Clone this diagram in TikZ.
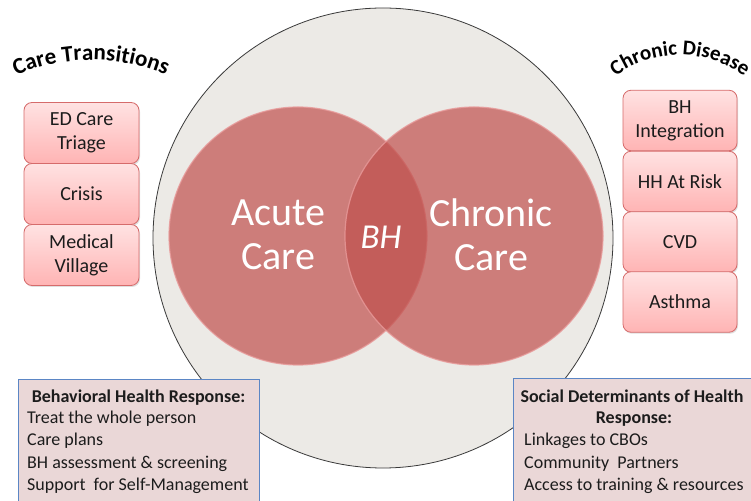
\documentclass[tikz,border=0pt]{standalone}
\usepackage{fontspec}
\setmainfont{Carlito}
\usetikzlibrary{calc,decorations.text,shadows}
\definecolor{ringfill}{HTML}{ECEAE6}
\definecolor{ringline}{HTML}{3A3A3A}
\definecolor{vennred}{HTML}{C0504D}
\definecolor{vennrim}{HTML}{E89A9A}
\definecolor{tiletop}{HTML}{FFE2E2}
\definecolor{tilebot}{HTML}{FFB4B4}
\definecolor{tileline}{HTML}{D66B6B}
\definecolor{notefill}{HTML}{EAD7D7}
\definecolor{noteline}{HTML}{5B86C5}
\definecolor{ink}{HTML}{1C1C1C}
\newcommand\arcfontA{\fontsize{23}{25}\selectfont\bfseries}
\newcommand\arcfontB{\fontsize{21}{23}\selectfont\bfseries}
\newcommand\bigfont{\fontsize{40}{44}\selectfont}
\newcommand\tilefont{\fontsize{20}{24}\selectfont}
\newcommand\notefont{\fontsize{18}{22}\selectfont}
\tikzset{
  tile/.style={rectangle, rounded corners=8pt, minimum width=115pt, minimum height=61pt,
    draw=tileline, line width=0.8pt, top color=tiletop, bottom color=tilebot,
    align=center, text=ink, font=\tilefont, inner sep=2pt,
    drop shadow={shadow xshift=1pt, shadow yshift=-1.5pt, opacity=0.25}},
  venn/.style={fill=vennred, fill opacity=0.7, draw=vennrim, draw opacity=0.8, line width=1.2pt},
  note/.style={fill=notefill, draw=noteline, line width=0.8pt},
  noteline/.style={anchor=base west, inner sep=0pt, text=ink, font=\notefont},
  notehead/.style={anchor=base, inner sep=0pt, text=ink, font=\notefont\bfseries},
  bigtext/.style={text=white, font=\bigfont, align=center, inner sep=0pt},
  arctext/.style={decorate, decoration={text along path, text align=center, text={#1}}}
}
\begin{document}
\begin{tikzpicture}[x=1pt,y=1pt]
\useasboundingbox (0,0) rectangle (751,500);
\fill[white] (0,0) rectangle (751,500);

% outer ring and the two overlapping care circles
\coordinate (ring) at (383,262);
\fill[ringfill] (ring) circle[radius=230pt];
\draw[ringline, line width=0.8pt] (ring) circle[radius=230pt];
\coordinate (acuteC) at (298,264);
\coordinate (chronicC) at (474,264);
\path[venn] (acuteC) circle[radius=129pt];
\path[venn] (chronicC) circle[radius=129pt];

\node[bigtext] (acute) at (278,265) {Acute\\Care};
\node[bigtext] (chronic) at (491,265) {Chronic\\Care};
\node[text=white, font=\fontsize{35}{40}\selectfont\itshape, inner sep=0pt] (bh) at (381,263) {BH};

% curved headings
\coordinate (ctA) at (91,250);
\path[arctext={|\arcfontA|Care Transitions}]
  ($(ctA)+(117:190)$) arc[start angle=117, end angle=63, radius=190pt];
\coordinate (ctB) at (680,337);
\path[arctext={|\arcfontB|Chronic Disease}]
  ($(ctB)+(135:108)$) arc[start angle=135, end angle=45, radius=108pt];

% left column
\node[tile] (ed) at (81.5,367) {ED Care\\Triage};
\node[tile] (crisis) at (81.5,306) {Crisis};
\node[tile] (village) at (81.5,245) {Medical\\Village};

% right column
\node[tile, minimum width=114pt, minimum height=60.5pt] (bhint) at (680,379.5) {BH\\Integration};
\node[tile, minimum width=114pt, minimum height=60.5pt] (hh) at (680,318.5) {HH At Risk};
\node[tile, minimum width=114pt, minimum height=60.5pt] (cvd) at (680,258) {CVD};
\node[tile, minimum width=114pt, minimum height=60.5pt] (asthma) at (680,198) {Asthma};

% bottom notes
\draw[note] (18,-2) rectangle (259,121);
\node[notehead] (bhhead) at (138.5,97) {Behavioral Health Response:};
\node[noteline] (bh1) at (27,76) {Treat the whole person};
\node[noteline] (bh2) at (27,54) {Care plans};
\node[noteline] (bh3) at (27,32) {BH assessment \& screening};
\node[noteline] (bh4) at (27,10) {Support\ \ for Self-Management};

\draw[note] (513,-2) rectangle (770,122);
\node[notehead] (sdhead) at (632,97) {Social Determinants of Health};
\node[notehead] (sdhead2) at (634,76) {Response:};
\node[noteline] (sd1) at (524,54) {Linkages to CBOs};
\node[noteline] (sd2) at (524,32) {Community\ \ Partners};
\node[noteline] (sd3) at (524,10) {Access to training \& resources};
\end{tikzpicture}
\end{document}
